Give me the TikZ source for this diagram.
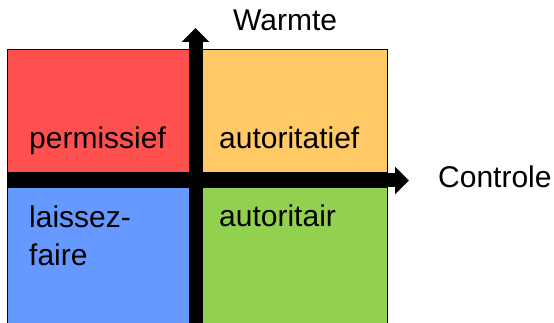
\documentclass[tikz,border=0pt]{standalone}
\usepackage{fontspec}
\setmainfont{Liberation Sans}
\usetikzlibrary{arrows.meta}

\definecolor{qred}{RGB}{255,80,80}
\definecolor{qorange}{RGB}{255,202,102}
\definecolor{qblue}{RGB}{102,153,255}
\definecolor{qgreen}{RGB}{146,208,80}

\begin{document}
\begin{tikzpicture}[x=1pt,y=-1pt,
	quadrant/.style={draw,line width=1pt,inner sep=0pt},
	txt/.style={anchor=base west,inner sep=0pt,font=\fontsize{30}{37}\selectfont},
	axis/.style={line width=14pt,-{Triangle[width=27pt,length=14pt]}}]
\useasboundingbox (0,0) rectangle (554,323);
\foreach \n/\x/\w/\h/\c in{
	perm/{(98,111.5)}/182pt/123pt/qred,
	autt/{(294.5,111.5)}/185pt/123pt/qorange,
	lais/{(98,259)}/182pt/142pt/qblue,
	autr/{(294.5,259)}/185pt/142pt/qgreen}
{
	\node[quadrant,fill=\c,minimum width=\w,minimum height=\h] (\n) at \x {};
}
\node[txt] (tperm) at (29,149) {permissief};
\node[txt] (tautt) at (219,149) {autoritatief};
\node[txt,align=left] (tlais) at (29,265) {laissez-\\faire};
\node[txt] (tautr) at (219,226) {autoritair};
\coordinate (wbot) at (195.5,330);
\coordinate (wtop) at (195.5,28);
\coordinate (cleft) at (7,180.5);
\coordinate (cright) at (409,180.5);
\draw[axis] (wbot) -- (wtop);
\draw[axis] (cleft) -- (cright);
\node[txt] (warm) at (233,31) {Warmte};
\node[txt] (contr) at (438,188) {Controle};
\end{tikzpicture}
\end{document}
